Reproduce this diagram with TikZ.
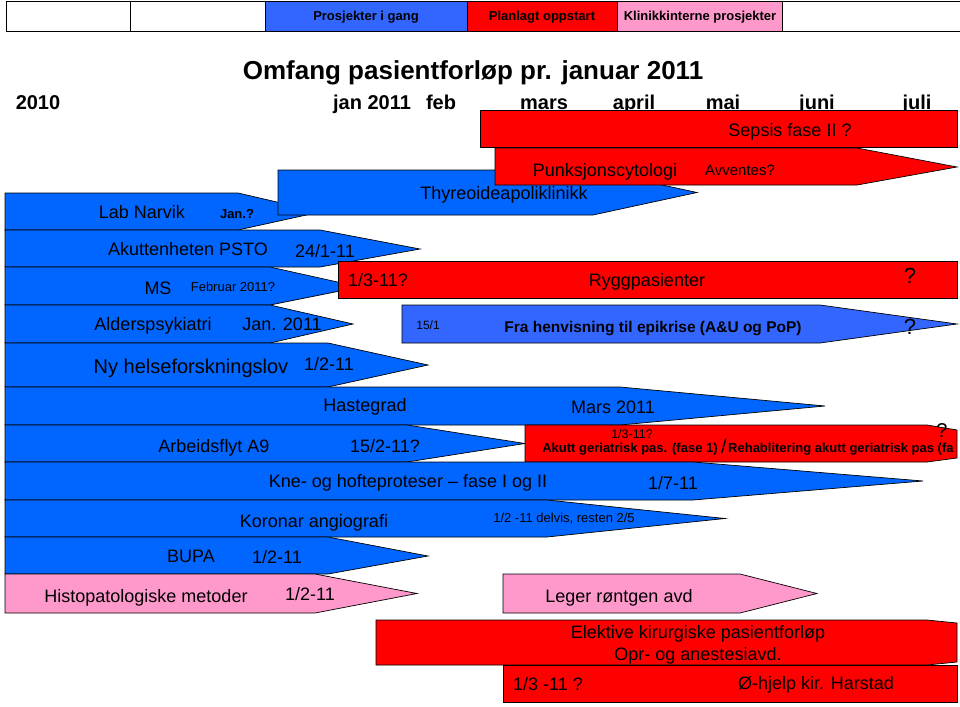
\documentclass[tikz,border=0pt]{standalone}
\usepackage{fontspec}
\setmainfont{Liberation Sans}
\definecolor{runblue}{RGB}{0,102,255}
\definecolor{lightblue}{RGB}{51,102,255}
\definecolor{planred}{RGB}{255,0,0}
\definecolor{clinicpink}{RGB}{255,153,204}

\begin{document}
\begin{tikzpicture}[x=1pt, y=-1pt,
    bar/.style={draw=black, line width=0.7pt},
    blue bar/.style={bar, fill=runblue},
    red bar/.style={bar, fill=planred},
    pink bar/.style={bar, fill=clinicpink},
    txt/.style={inner sep=0pt, font=\fontsize{#1}{#1}\selectfont, text height={0.72*#1pt}, text depth=0pt},
    btxt/.style={inner sep=0pt, font=\bfseries\fontsize{#1}{#1}\selectfont, text height={0.72*#1pt}, text depth=0pt}]
            \useasboundingbox (0,0) rectangle (960,706);

            \draw[bar, fill=white] (6,1.5) rectangle (130,31);
            \draw[bar, fill=white] (130,1.5) rectangle (265,31);
            \draw[bar, fill=lightblue] (265,1.5) rectangle (467,31);
            \draw[bar, fill=planred] (467,1.5) rectangle (617,31);
            \draw[bar, fill=clinicpink] (617,1.5) rectangle (782,31);
            \draw[bar] (782,1.5) -- (960,1.5) (782,31) -- (960,31);
            \node[btxt=13] (keyrun) at (366,16) {Prosjekter i gang};
            \node[btxt=13] (keyplan) at (542,16) {Planlagt oppstart};
            \node[btxt=13] (keyclinic) at (700,16) {Klinikkinterne prosjekter};

            \node[btxt=26] (title) at (473,70) {Omfang pasientforløp pr. januar 2011};
            \node[btxt=20] (y2010) at (38,102) {2010};
            \node[btxt=20] (mjan) at (372,102) {jan 2011};
            \node[btxt=20] (mfeb) at (441,102) {feb};
            \node[btxt=20] (mmar) at (544,102) {mars};
            \node[btxt=20] (mapr) at (634,102) {april};
            \node[btxt=20] (mmai) at (723,102) {mai};
            \node[btxt=20] (mjun) at (817,102) {juni};
            \node[btxt=20] (mjul) at (917,102) {juli};

            \draw[red bar] (480,110) rectangle (957,147);
            \node[txt=18] (sepsis) at (790,130) {Sepsis fase II ?};

            \draw[blue bar] (5,193) -- (238,193) -- (320,212) -- (238,230) -- (5,230) -- cycle;
            \node[txt=18] (narvik) at (142,212) {Lab Narvik};
            \node[btxt=13] (narvikdate) at (237,214) {Jan.?};
            \draw[blue bar] (278,170) -- (593,170) -- (697,192.5) -- (593,215) -- (278,215) -- cycle;
            \node[txt=18] (thyreo) at (504,193) {Thyreoideapoliklinikk};
            \draw[red bar] (495,148) -- (857,148) -- (957,167) -- (857,185) -- (495,185) -- cycle;
            \node[txt=18] (punksjon) at (605,170) {Punksjonscytologi};
            \node[txt=15] (avventes) at (740,170) {Avventes?};

            \draw[blue bar] (5,230) -- (320,230) -- (420,249) -- (320,267) -- (5,267) -- cycle;
            \node[txt=18] (akutt) at (188,249) {Akuttenheten PSTO};
            \node[txt=18] (akuttdate) at (325,251) {24/1-11};
            \draw[blue bar] (5,267) -- (270,267) -- (360,287) -- (270,305) -- (5,305) -- cycle;
            \node[txt=18] (ms) at (158,288) {MS};
            \node[txt=13] (msdate) at (233,287) {Februar 2011?};
            \draw[red bar] (338,261) rectangle (957,298);
            \node[txt=18] (ryggdate) at (378,280) {1/3-11?};
            \node[txt=18] (rygg) at (647,280) {Ryggpasienter};
            \node[txt=22] (ryggq) at (910,276) {?};

            \draw[blue bar] (5,305) -- (270,305) -- (353,324) -- (270,343) -- (5,343) -- cycle;
            \node[txt=18] (alder) at (153,324) {Alderspsykiatri};
            \node[txt=18] (alderdate) at (282,324) {Jan. 2011};
            \draw[bar, fill=lightblue] (402,305) -- (820,305) -- (957,324) -- (820,343) -- (402,343) -- cycle;
            \node[txt=12] (henvdate) at (428,325) {15/1};
            \node[btxt=15.5] (henv) at (653,327) {Fra henvisning til epikrise (A\&U og PoP)};
            \node[txt=22] (henvq) at (910,327) {?};

            \draw[blue bar] (5,343) -- (328,343) -- (428,365) -- (328,387) -- (5,387) -- cycle;
            \node[txt=20] (lov) at (191,366) {Ny helseforskningslov};
            \node[txt=18] (lovdate) at (329,364) {1/2-11};

            \draw[blue bar] (5,387) -- (620,387) -- (825,406) -- (620,425) -- (5,425) -- cycle;
            \node[txt=18] (haste) at (365,405) {Hastegrad};
            \node[txt=18] (hastedate) at (613,407) {Mars 2011};
            \draw[blue bar] (5,425) -- (407,425) -- (525,443.5) -- (407,462) -- (5,462) -- cycle;
            \node[txt=18] (a9) at (214,446) {Arbeidsflyt A9};
            \node[txt=18] (a9date) at (385,446) {15/2-11?};
            \draw[red bar] (525,425) -- (927,425) -- (957,430) -- (957,458) -- (927,462) -- (525,462) -- cycle;
            \node[txt=12.5] (geridate) at (632,434) {1/3-11?};
            \node[btxt=13] (geri) at (630,448) {Akutt geriatrisk pas. (fase 1)};
            \node[txt=20] (gerislash) at (724,446) {/};
            \node[btxt=13, anchor=west] (rehab) at (728,448) {Rehablitering akutt geriatrisk pas (fa};
            \node[txt=20] (geriq) at (942,430) {?};

            \draw[blue bar] (5,462) -- (693,462) -- (923,481) -- (693,500) -- (5,500) -- cycle;
            \node[txt=18] (kne) at (408,481) {Kne- og hofteproteser -- fase I og II};
            \node[txt=18] (knedate) at (673,483) {1/7-11};
            \draw[blue bar] (5,500) -- (547,500) -- (725,518.5) -- (547,537) -- (5,537) -- cycle;
            \node[txt=18] (koronar) at (314,521) {Koronar angiografi};
            \node[txt=13] (koronardate) at (564,518) {1/2 -11 delvis, resten 2/5};
            \draw[blue bar] (5,537) -- (328,537) -- (428,556) -- (328,574) -- (5,574) -- cycle;
            \node[txt=18] (bupa) at (191,556) {BUPA};
            \node[txt=18] (bupadate) at (277,557) {1/2-11};

            \draw[pink bar] (5,574) -- (315,574) -- (417,593.5) -- (315,613) -- (5,613) -- cycle;
            \node[txt=18] (histo) at (146,596) {Histopatologiske metoder};
            \node[txt=18] (histodate) at (310,594) {1/2-11};
            \draw[pink bar] (503,574) -- (740,574) -- (817,593.5) -- (740,613) -- (503,613) -- cycle;
            \node[txt=18] (leger) at (619,596) {Leger røntgen avd};

            \draw[red bar] (376,620) -- (927,620) -- (957,623) -- (957,662) -- (927,665) -- (376,665) -- cycle;
            \node[txt=18] (elektiv) at (698,632) {Elektive kirurgiske pasientforløp};
            \node[txt=18] (opr) at (698,654) {Opr- og anestesiavd.};
            \draw[red bar] (503,665) rectangle (957,702);
            \node[txt=18] (harstaddate) at (548,684) {1/3 -11 ?};
            \node[txt=18] (harstad) at (816,683) {Ø-hjelp kir. Harstad};
        \end{tikzpicture}
\end{document}
